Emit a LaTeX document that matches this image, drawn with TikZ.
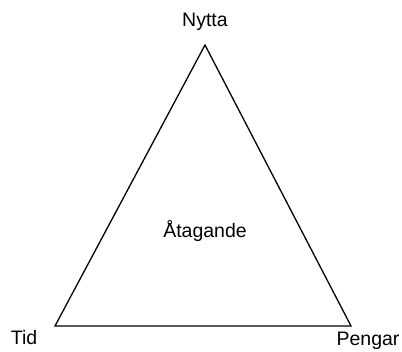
\documentclass[tikz,border=0pt]{standalone}
\usepackage{fontspec}
\setmainfont{Liberation Sans}
\begin{document}
\begin{tikzpicture}[x=1pt,y=1pt,font=\fontsize{19.5}{23}\selectfont]
\useasboundingbox (0,0) rectangle (402,352);
\coordinate (top) at (205,307);
\coordinate (left) at (55,26);
\coordinate (right) at (351,26);

\draw[line width=1.3pt, line join=miter] (top) -- (left) -- (right) -- cycle;

\node[anchor=base] (nytta) at (205,325) {Nytta};
\node[anchor=base] (tid) at (24,7) {Tid};
\node[anchor=base] (pengar) at (368,6) {Pengar};
\node[anchor=base] (atagande) at (205,114) {Åtagande};
\end{tikzpicture}
\end{document}
